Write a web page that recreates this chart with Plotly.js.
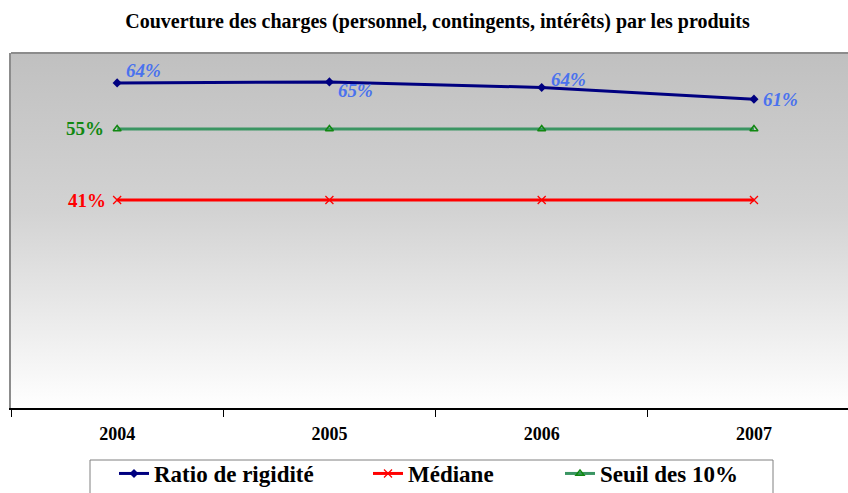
<!DOCTYPE html>
<html>
<head>
<meta charset="utf-8">
<script src="https://cdn.plot.ly/plotly-3.0.1.min.js"></script>
<style>html,body{margin:0;padding:0;background:#fff;}#chart{width:848px;height:493px;}</style>
</head>
<body>
<div id="chart"></div>
<script>
const years = ["2004", "2005", "2006", "2007"];
const ratioValues = [64.1, 64.3, 63.2, 60.9];
const ratioLabels = ["64%", "65%", "64%", "61%"];
const medianValues = [41, 41, 41, 41];
const medianLabel = "41%";
const seuilValues = [55, 55, 55, 55];
const seuilLabel = "55%";

const serif = "Liberation Serif, Times New Roman, serif";

// layout geometry (pixels)
const W = 848, H = 493, ML = 11, MR = 0, MT = 53, MB = 85;
const plotW = W - ML - MR, plotH = H - MT - MB;
const px2x = p => (p - ML) / plotW;
const py2y = p => (H - MB - p) / plotH;

const gradSvg = '<svg xmlns="http://www.w3.org/2000/svg" width="10" height="100" preserveAspectRatio="none">' +
  '<defs><linearGradient id="g" x1="0" y1="0" x2="0" y2="1">' +
  '<stop offset="0" stop-color="#c0c0c0"/><stop offset="0.45" stop-color="#d3d3d3"/><stop offset="1" stop-color="#ffffff"/>' +
  '</linearGradient></defs><rect width="10" height="100" fill="url(#g)"/></svg>';
const gradUri = "data:image/svg+xml;base64," + btoa(gradSvg);

const traces = [
  {
    x: years, y: ratioValues, name: "Ratio de rigidité", type: "scatter", mode: "lines+markers",
    line: {color: "#000080", width: 3},
    marker: {symbol: "diamond", size: 7, color: "#000080"},
    legend: "legend", cliponaxis: false
  },
  {
    x: years, y: medianValues, name: "Médiane", type: "scatter", mode: "lines+markers",
    line: {color: "#ff0000", width: 3},
    marker: {symbol: "x-thin-open", size: 8, color: "#ff0000", line: {color: "#ff0000", width: 1.3}},
    legend: "legend2", cliponaxis: false
  },
  {
    x: years, y: seuilValues, name: "Seuil des 10%", type: "scatter", mode: "lines+markers",
    line: {color: "#3a9562", width: 3},
    marker: {symbol: "triangle-up-open", size: 7, color: "#118811", line: {color: "#118811", width: 1.5}},
    legend: "legend3", cliponaxis: false
  }
];

// label placement offsets (px) for the ratio labels
const ratioShiftY = [12, -9, 8, 0];
const labelFont = {family: serif, size: 19, color: "#4a72ee", weight: "bold", style: "italic"};
const annotations = ratioLabels.map((t, i) => ({
  x: i, y: ratioValues[i], xref: "x", yref: "y", text: t, showarrow: false,
  xanchor: "left", yanchor: "middle", xshift: 7, yshift: ratioShiftY[i], font: labelFont
}));
annotations.push({
  x: 0, y: seuilValues[0], xref: "x", yref: "y", text: seuilLabel, showarrow: false,
  xanchor: "right", yanchor: "middle", xshift: -11, yshift: 1,
  font: {family: serif, size: 19, color: "#118811", weight: "bold"}
});
annotations.push({
  x: 0, y: medianValues[0], xref: "x", yref: "y", text: medianLabel, showarrow: false,
  xanchor: "right", yanchor: "middle", xshift: -9, yshift: 0,
  font: {family: serif, size: 19, color: "#ff0000", weight: "bold"}
});

const legendFont = {family: serif, size: 23, color: "#000", weight: "bold"};
const legBase = {orientation: "h", xanchor: "left", yanchor: "top", y: py2y(452),
  borderwidth: 0, bgcolor: "rgba(0,0,0,0)", font: legendFont, itemwidth: 30};

const layout = {
  width: W, height: H,
  margin: {l: ML, r: MR, t: MT, b: MB, autoexpand: false},
  paper_bgcolor: "#ffffff",
  plot_bgcolor: "rgba(0,0,0,0)",
  showlegend: true,
  title: {
    text: "Couverture des charges (personnel, contingents, intérêts) par les produits",
    font: {family: serif, size: 20, color: "#000", weight: "bold"},
    xref: "container", x: 437.5 / W, xanchor: "center", y: 1 - 21 / H, yanchor: "middle"
  },
  xaxis: {
    type: "category", range: [-0.5, 3.443],
    tickson: "boundaries", ticks: "outside", ticklen: 7, tickcolor: "#000", tickwidth: 1,
    showline: true, linecolor: "#000", linewidth: 1.5,
    showgrid: false, zeroline: false,
    tickfont: {family: serif, size: 18, color: "#000", weight: "bold"},
    ticklabelstandoff: 9
  },
  yaxis: {
    range: [0, 70], showticklabels: false, ticks: "", showgrid: false, zeroline: false,
    showline: true, linecolor: "#8c8c8c", linewidth: 2
  },
  images: [{
    source: gradUri, xref: "paper", yref: "paper", x: 0, y: 1, sizex: 1, sizey: 1,
    xanchor: "left", yanchor: "top", sizing: "stretch", layer: "below"
  }],
  shapes: [
    {type: "line", xref: "paper", yref: "paper", x0: 0, x1: 1, y0: 1, y1: 1,
     line: {color: "#8c8c8c", width: 2}},
    {type: "rect", xref: "paper", yref: "paper", x0: px2x(90), x1: px2x(773), y0: py2y(460), y1: py2y(500),
     line: {color: "#808080", width: 1}, fillcolor: "rgba(0,0,0,0)"}
  ],
  annotations: annotations,
  legend: Object.assign({}, legBase, {x: px2x(114)}),
  legend2: Object.assign({}, legBase, {x: px2x(368)}),
  legend3: Object.assign({}, legBase, {x: px2x(560)})
};

Plotly.newPlot("chart", traces, layout, {displayModeBar: false, staticPlot: true});
</script>
</body>
</html>
